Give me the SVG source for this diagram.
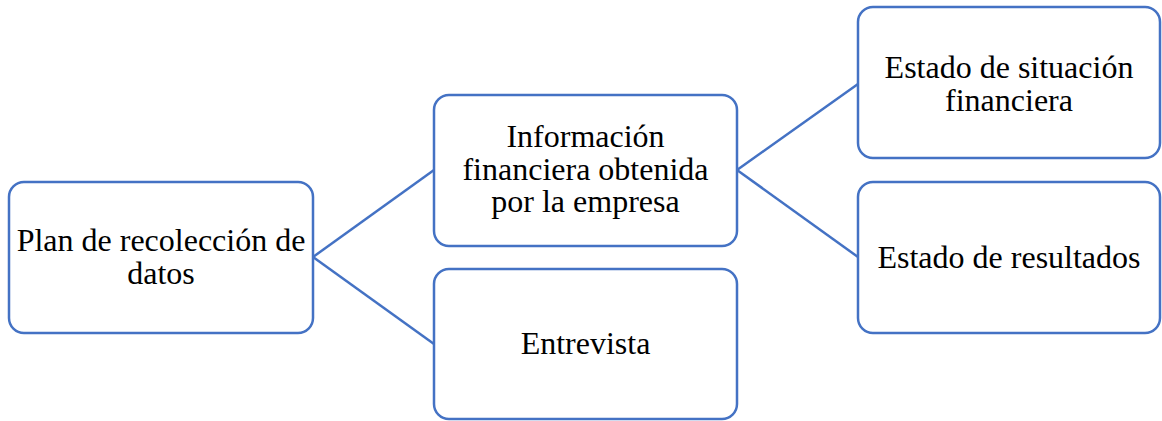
<svg xmlns="http://www.w3.org/2000/svg" width="1162" height="421" viewBox="0 0 1162 421">
<rect width="1162" height="421" fill="#ffffff"/>
<g id="connectors" stroke="#4472C4" stroke-width="2.5" fill="none">
<line x1="313" y1="257" x2="434" y2="170"/>
<line x1="313" y1="257" x2="434" y2="344"/>
<line x1="737" y1="170" x2="858" y2="84"/>
<line x1="737" y1="170" x2="858" y2="257"/>
</g>
<g id="plan">
<rect x="9" y="182" width="304" height="151" rx="15" fill="#ffffff" stroke="#4472C4" stroke-width="2.5"/>
<text x="161" y="251" font-family="Liberation Serif" font-size="32" text-anchor="middle" style="font-family:'Liberation Serif';font-size:32px">Plan de recolección de</text>
<text x="161" y="283.5" font-family="Liberation Serif" font-size="32" text-anchor="middle" style="font-family:'Liberation Serif';font-size:32px">datos</text>
</g>
<g id="info">
<rect x="434" y="95" width="303" height="151" rx="15" fill="#ffffff" stroke="#4472C4" stroke-width="2.5"/>
<text x="585.5" y="147" font-family="Liberation Serif" font-size="32" text-anchor="middle" style="font-family:'Liberation Serif';font-size:32px">Información</text>
<text x="585.5" y="179.5" font-family="Liberation Serif" font-size="32" text-anchor="middle" style="font-family:'Liberation Serif';font-size:32px">financiera obtenida</text>
<text x="585.5" y="212" font-family="Liberation Serif" font-size="32" text-anchor="middle" style="font-family:'Liberation Serif';font-size:32px">por la empresa</text>
</g>
<g id="entrevista">
<rect x="434" y="269" width="303" height="150" rx="15" fill="#ffffff" stroke="#4472C4" stroke-width="2.5"/>
<text x="585.5" y="354" font-family="Liberation Serif" font-size="32" text-anchor="middle" style="font-family:'Liberation Serif';font-size:32px">Entrevista</text>
</g>
<g id="situacion">
<rect x="858" y="7" width="302" height="151" rx="15" fill="#ffffff" stroke="#4472C4" stroke-width="2.5"/>
<text x="1009" y="78" font-family="Liberation Serif" font-size="32" text-anchor="middle" style="font-family:'Liberation Serif';font-size:32px">Estado de situación</text>
<text x="1009" y="110.5" font-family="Liberation Serif" font-size="32" text-anchor="middle" style="font-family:'Liberation Serif';font-size:32px">financiera</text>
</g>
<g id="resultados">
<rect x="858" y="182" width="302" height="151" rx="15" fill="#ffffff" stroke="#4472C4" stroke-width="2.5"/>
<text x="1009" y="268" font-family="Liberation Serif" font-size="32" text-anchor="middle" style="font-family:'Liberation Serif';font-size:32px">Estado de resultados</text>
</g>
</svg>
